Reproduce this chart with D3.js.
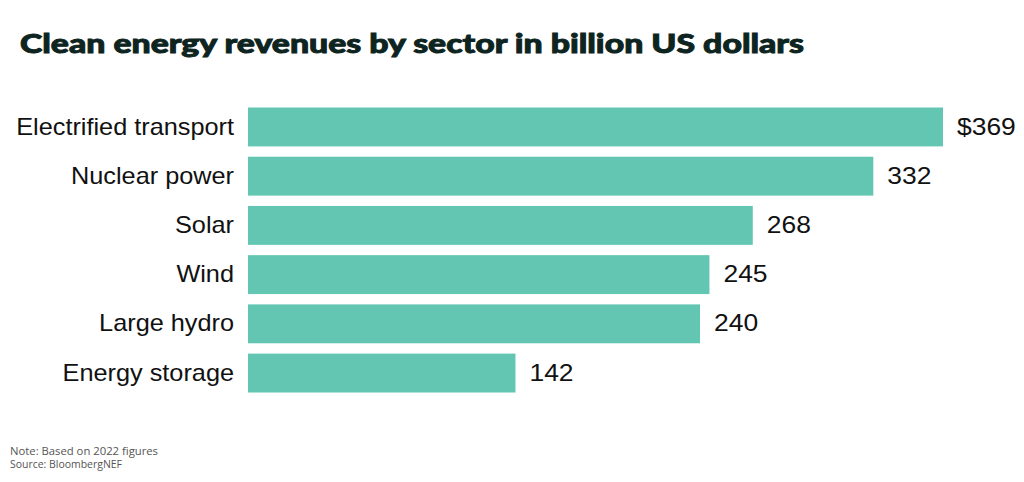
<!DOCTYPE html>
<html><head><meta charset="utf-8">
<script src="https://cdn.jsdelivr.net/npm/d3@7"></script>
<style>body{margin:0;background:#fff}svg{display:block}</style>
</head><body>
<script>
const categories = ["Electrified transport","Nuclear power","Solar","Wind","Large hydro","Energy storage"];
const values = [369,332,268,245,240,142];
const valueLabels = ["$369","332","268","245","240","142"];
const title = "Clean energy revenues by sector in billion US dollars";
const notes = ["Note: Based on 2022 figures","Source: BloombergNEF"];

const W=1024,H=482;
const svg=d3.select("body").append("svg").attr("width",W).attr("height",H);
svg.append("rect").attr("width",W).attr("height",H).attr("fill","#fff");

svg.append("text").attr("x",20).attr("y",53).text(title)
  .attr("font-family","Lato").attr("font-weight",900).attr("font-size",26)
  .attr("fill","#0d2420").attr("stroke","#0d2420").attr("stroke-width",0.9)
  .attr("textLength",784).attr("lengthAdjust","spacingAndGlyphs");

const x=d3.scaleLinear().domain([0,369]).range([248,943]);
const y=d3.scaleBand().domain(categories).range([107.5,392.5]).paddingInner(0.21).paddingOuter(0);

const g=svg.append("g");
g.selectAll("rect.bar").data(categories).join("rect").attr("class","bar")
  .attr("x",x(0)).attr("y",d=>y(d)).attr("height",y.bandwidth())
  .attr("width",(d,i)=>x(values[i])-x(0)).attr("fill","#62c6b3");

g.selectAll("text.cat").data(categories).join("text").attr("class","cat")
  .attr("transform",d=>`translate(234,${y(d)+y.bandwidth()/2}) scale(1.10,1)`).attr("dy","0.33em")
  .attr("text-anchor","end").attr("font-family","Liberation Sans, Arial").attr("font-size",23)
  .attr("fill","#111").text(d=>d);

g.selectAll("text.val").data(categories).join("text").attr("class","val")
  .attr("transform",(d,i)=>`translate(${x(values[i])+14},${y(d)+y.bandwidth()/2}) scale(1.15,1)`).attr("dy","0.33em")
  .attr("font-family","Liberation Sans, Arial").attr("font-size",23)
  .attr("fill","#111").text((d,i)=>valueLabels[i]);

const noteLen=[148,112];
svg.selectAll("text.note").data(notes).join("text").attr("class","note")
  .attr("x",10).attr("y",(d,i)=>455+i*13).text(d=>d)
  .attr("font-family","Open Sans").attr("font-size",10.5).attr("fill","#555")
  .attr("textLength",(d,i)=>noteLen[i]).attr("lengthAdjust","spacingAndGlyphs");
</script>
</body></html>
